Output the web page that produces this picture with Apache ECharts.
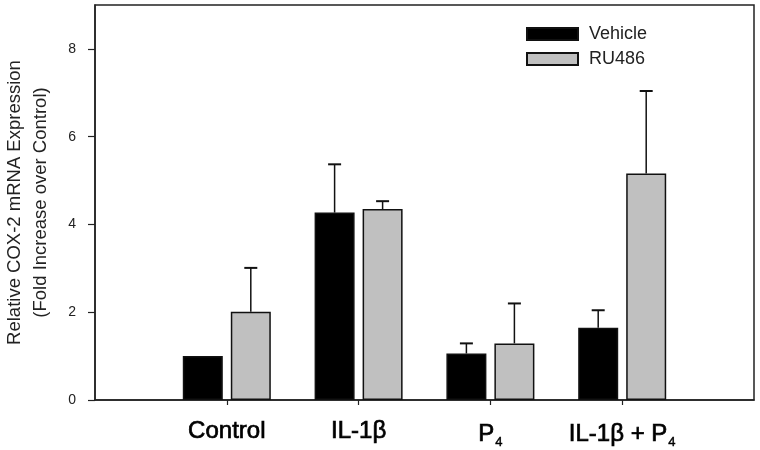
<!DOCTYPE html>
<html><head><meta charset="utf-8">
<script src="https://cdn.jsdelivr.net/npm/echarts@6/dist/echarts.min.js"></script>
<style>html,body{margin:0;padding:0;background:#fff}#c{width:760px;height:450px}</style>
</head><body><div id="c"></div>
<script>
const categories = ['Control', 'IL-1β', 'P4', 'IL-1β + P4'];
const vehicle = [1.0, 4.27, 1.06, 1.645];
const vehicleErr = [0, 1.10, 0.23, 0.40];
const ru486 = [2.01, 4.35, 1.29, 5.16];
const ru486Err = [1.0, 0.18, 0.91, 1.88];
const yTicks = [0, 2, 4, 6, 8];
const xPos = categories.map((c, i) => i + 1);

const FONT = '"Liberation Sans", Arial, sans-serif';
const chart = echarts.init(document.getElementById('c'));

function errSeries(vals, errs, off) {
  return {
    type: 'custom', z: 5, silent: true,
    data: vals.map((v, i) => [xPos[i], v, errs[i]]),
    renderItem: function (params, api) {
      const e = api.value(2);
      if (!e) return null;
      const p0 = api.coord([api.value(0), api.value(1)]);
      const p1 = api.coord([api.value(0), api.value(1) + e]);
      const x = p0[0] + off;
      return { type: 'group', children: [
        { type: 'line', shape: { x1: x, y1: p0[1], x2: x, y2: p1[1] }, style: { stroke: '#111', lineWidth: 1.5 } },
        { type: 'line', shape: { x1: x - 6.5, y1: p1[1], x2: x + 6.5, y2: p1[1] }, style: { stroke: '#111', lineWidth: 2 } }
      ]};
    }
  };
}

function catLabel(v) {
  const name = categories[Math.round(v) - 1];
  if (!name) return '';
  return name.split('P4').map(s => s ? '{n|' + s + '}' : '').join('{n|P}{s|4}');
}

chart.setOption({
  animation: false,
  textStyle: { fontFamily: FONT },
  grid: { left: 95, right: 6, top: 5, bottom: 50, containLabel: false, outerBoundsMode: 'none',
          show: true, borderColor: '#222', borderWidth: 1.5 },
  legend: {
    left: 521, top: 20, orient: 'vertical', itemWidth: 51, itemHeight: 12, itemGap: 7, icon: 'rect',
    textStyle: { fontSize: 18, lineHeight: 16, color: '#222', fontFamily: FONT, padding: [0, 0, 0, 6] },
    data: ['Vehicle', 'RU486']
  },
  xAxis: {
    type: 'value', min: 0, max: 5, interval: 1,
    splitLine: { show: false },
    axisLine: { lineStyle: { color: '#222', width: 1.5 } },
    axisTick: { length: 5, customValues: xPos, lineStyle: { color: '#222', width: 1.2 } },
    axisLabel: {
      customValues: xPos, margin: 19, formatter: catLabel,
      rich: {
        n: { fontSize: 24, color: '#000', fontFamily: FONT, textBorderColor: '#000', textBorderWidth: 0.7 },
        s: { fontSize: 13, color: '#000', fontFamily: FONT, textBorderColor: '#000', textBorderWidth: 0.4, padding: [17, 0, 0, 1] }
      }
    }
  },
  yAxis: {
    type: 'value', min: 0, max: 9, interval: 2,
    splitLine: { show: false },
    axisLine: { lineStyle: { color: '#222', width: 1.5 } },
    axisTick: { length: 7, customValues: yTicks, lineStyle: { color: '#222', width: 1.2 } },
    axisLabel: { customValues: yTicks, fontSize: 14, color: '#222', margin: 19 },
    name: 'Relative COX-2 mRNA Expression\n(Fold Increase over Control)',
    nameLocation: 'middle', nameRotate: 90, nameGap: 41,
    nameTextStyle: { fontSize: 18.5, color: '#222', lineHeight: 26, fontFamily: FONT }
  },
  series: [
    { name: 'Vehicle', type: 'bar', barWidth: 40, barGap: '20%',
      itemStyle: { color: '#000', borderColor: '#111', borderWidth: 1.5 },
      data: vehicle.map((v, i) => [xPos[i], v]) },
    { name: 'RU486', type: 'bar', barWidth: 40, barGap: '20%',
      itemStyle: { color: '#c0c0c0', borderColor: '#111', borderWidth: 1.5 },
      data: ru486.map((v, i) => [xPos[i], v]) },
    errSeries(vehicle, vehicleErr, -24),
    errSeries(ru486, ru486Err, 24)
  ]
});
</script></body></html>
